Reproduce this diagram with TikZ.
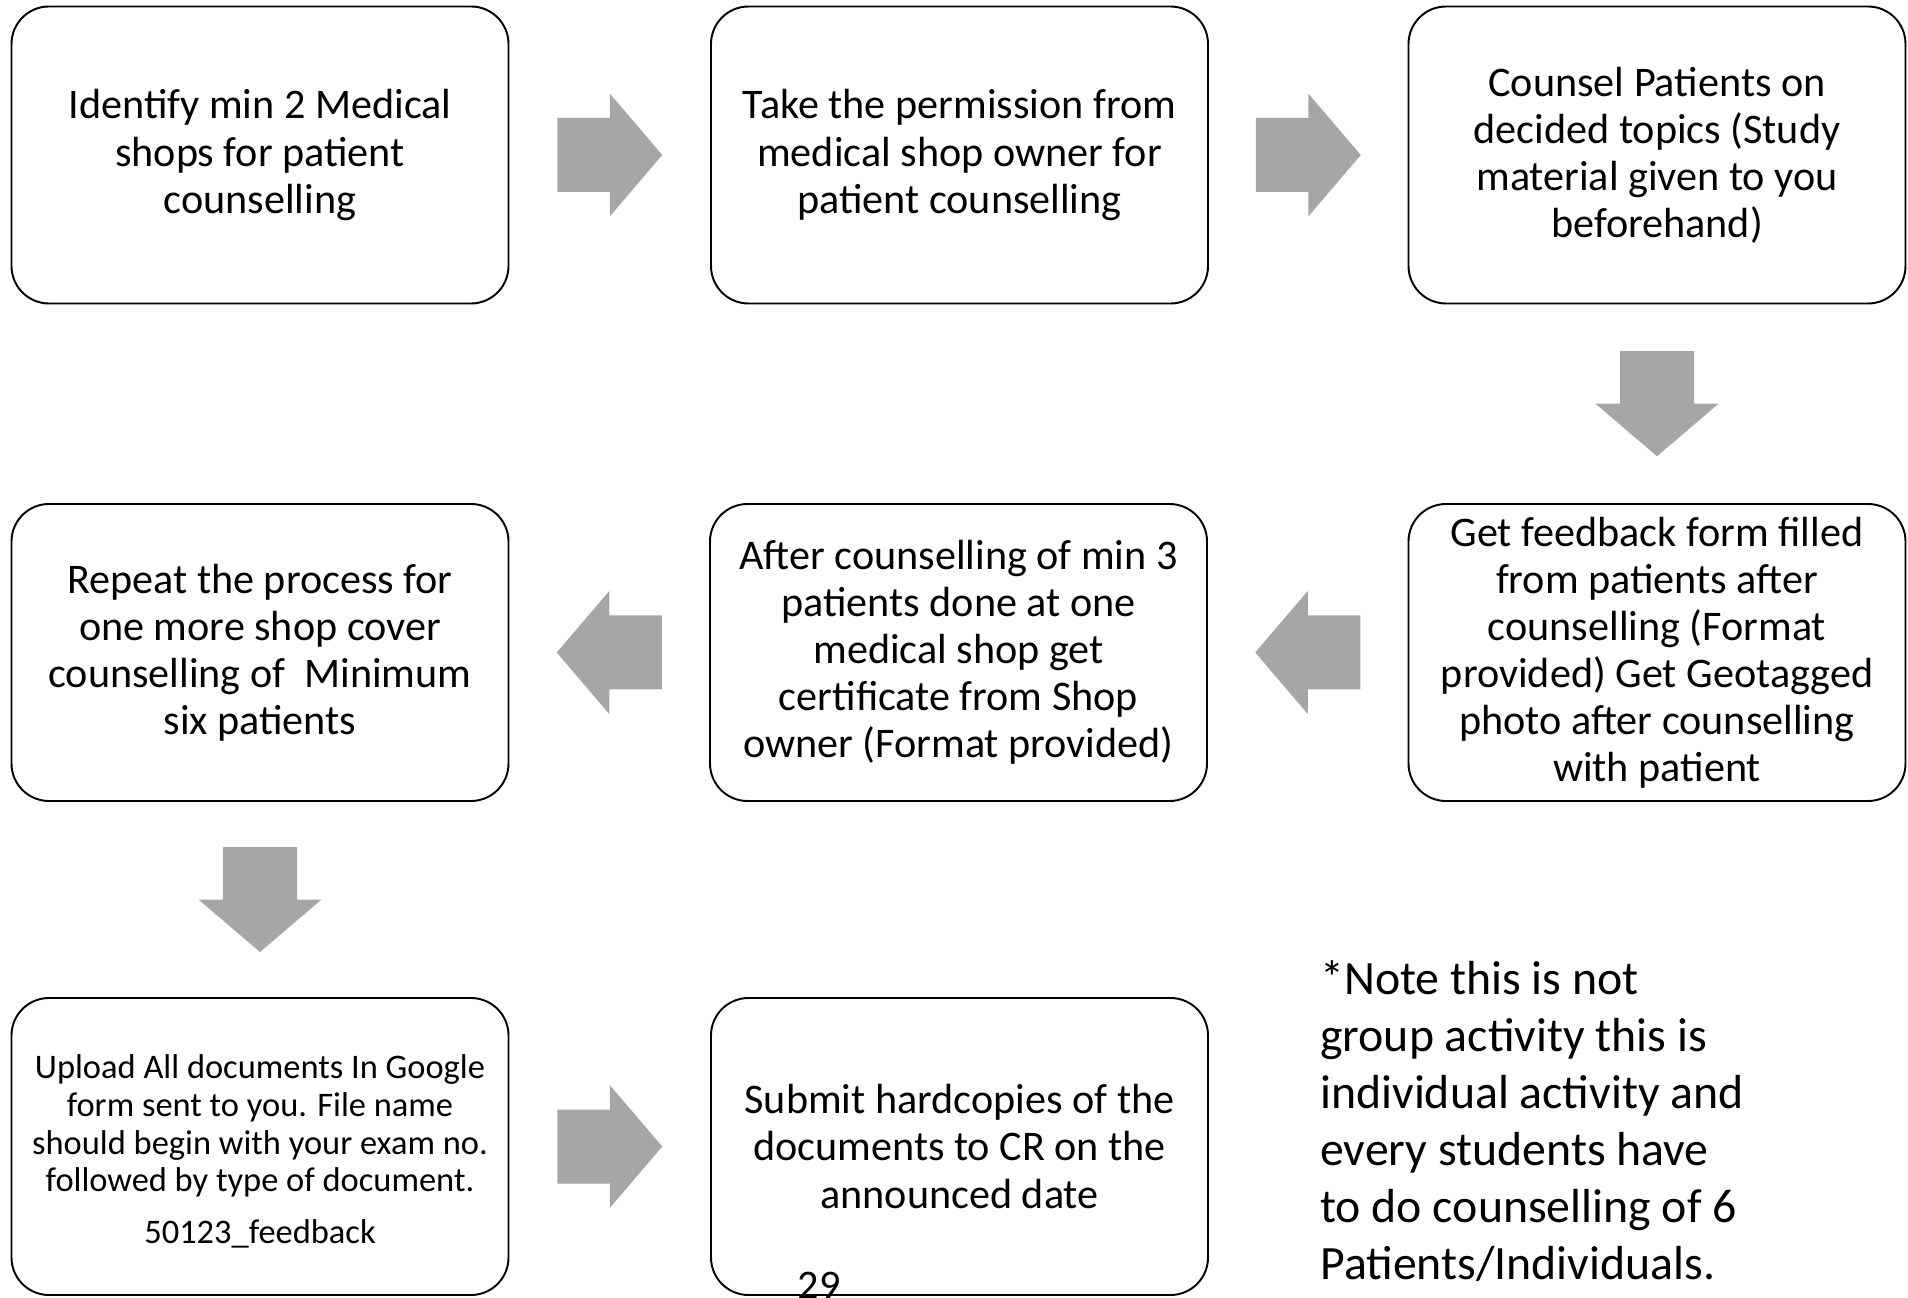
\documentclass[tikz,border=0pt]{standalone}
\usepackage{fontspec}
\setmainfont{Carlito}
\usetikzlibrary{calc}
\definecolor{ink}{HTML}{000000}
\definecolor{arrowgray}{HTML}{A6A6A6}
\tikzset{
  stepbox/.style={draw=ink,line width=1.1pt,rounded corners=0.75cm,
    minimum width=9.94cm,minimum height=5.94cm,align=center,inner sep=0pt,
    font=\fontsize{24}{26.8}\selectfont},
  blockarrow/.pic={
    \fill[arrowgray] (-1.05,0.74) -- (0,0.74) -- (0,1.23) -- (1.05,0)
      -- (0,-1.23) -- (0,-0.74) -- (-1.05,-0.74) -- cycle;}
}

\begin{document}
\begin{tikzpicture}
 \useasboundingbox (0,0) rectangle (38.16,25.94);
 % first row
 \node[stepbox] (shops) at (5.2,22.84)
   {Identify min 2 Medical\\shops for patient\\counselling};
 \node[stepbox] (permit) at (19.19,22.84)
   {Take the permission from\\medical shop owner for\\patient counselling};
 \node[stepbox] (counsel) at (33.14,22.84)
   {Counsel Patients on\\decided topics (Study\\material given to you\\beforehand)};
 % second row
 \node[stepbox] (repeat) at (5.2,12.89)
   {Repeat the process for\\one more shop cover\\counselling of\ \ Minimum\\six patients};
 \node[stepbox] (certif) at (19.17,12.89)
   {After counselling of min 3\\patients done at one\\medical shop get\\certificate from Shop\\owner (Format provided)};
 \node[stepbox] (feedback) at (33.14,12.89)
   {Get feedback form filled\\from patients after\\counselling (Format\\provided) Get Geotagged\\photo after counselling\\with patient};
 % third row
 \node[stepbox] (upload) at (5.2,3.01) {};
 \node[align=center,inner sep=0pt,font=\fontsize{19.6}{21.4}\selectfont] (uploadtext) at ([yshift=-0.1cm]upload.center)
   {Upload All documents In Google\\form sent to you. File name\\should begin with your exam no.\\followed by type of document.\\[0.28cm]50123\_feedback};
 \node[stepbox] (submit) at (19.19,3.01)
   {Submit hardcopies of the\\documents to CR on the\\announced date};
 \node[anchor=base,inner sep=0pt,font=\fontsize{24}{26.8}\selectfont] (pageno) at (16.38,-0.05) {29};
 \node[anchor=north west,align=left,inner sep=0pt,font=\fontsize{27.2}{32.5}\selectfont]
   (note) at (26.4,6.74)
   {*Note this is not\\group activity this is\\individual activity and\\every students have\\to do counselling of 6\\Patients/Individuals.};
 % block arrows
 \path ($(shops.east)!0.5!(permit.west)$) pic {blockarrow};
 \path ($(permit.east)!0.5!(counsel.west)$) pic {blockarrow};
 \path ($(counsel.south)!0.5!(feedback.north)$) pic[rotate=-90] {blockarrow};
 \path ($(feedback.west)!0.5!(certif.east)$) pic[rotate=180] {blockarrow};
 \path ($(certif.west)!0.5!(repeat.east)$) pic[rotate=180] {blockarrow};
 \path ($(repeat.south)!0.5!(upload.north)$) pic[rotate=-90] {blockarrow};
 \path ($(upload.east)!0.5!(submit.west)$) pic {blockarrow};
\end{tikzpicture}
\end{document}
